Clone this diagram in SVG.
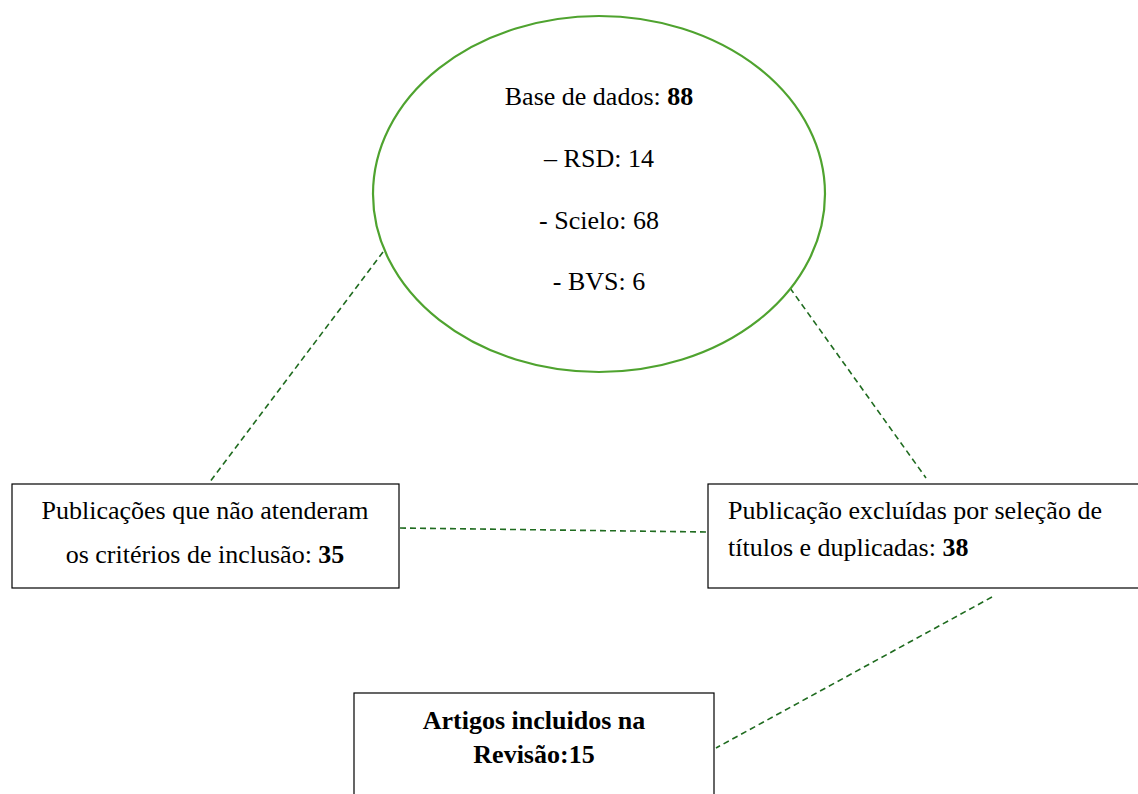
<svg xmlns="http://www.w3.org/2000/svg" width="1138" height="794" viewBox="0 0 1138 794">
<style>
text{font-family:"Liberation Serif","Times New Roman",serif;font-size:26px;fill:#000}
.b{font-weight:bold}
.box{fill:#fff;stroke:#000;stroke-width:1.2}
.conn{stroke:#1f6b1f;stroke-width:1.6;stroke-dasharray:6,4;fill:none}
</style>
<rect width="1138" height="794" fill="#fff"/>
<g id="connectors">
<line class="conn" x1="383" y1="252" x2="209" y2="483"/>
<line class="conn" x1="790" y1="288" x2="926" y2="478"/>
<line class="conn" x1="400" y1="528" x2="707" y2="532"/>
<line class="conn" x1="992" y1="597" x2="716" y2="748"/>
</g>
<g id="base">
<ellipse cx="599" cy="194" rx="226" ry="178" fill="#fff" stroke="#4fa32f" stroke-width="2.2"/>
<text x="599" y="105" text-anchor="middle">Base de dados: <tspan class="b">88</tspan></text>
<text x="599" y="167" text-anchor="middle">– RSD: 14</text>
<text x="599" y="229" text-anchor="middle">- Scielo: 68</text>
<text x="599" y="290" text-anchor="middle">- BVS: 6</text>
</g>
<g id="naoAtenderam">
<rect class="box" x="12" y="484" width="387" height="104"/>
<text x="205" y="519" text-anchor="middle">Publicações que não atenderam</text>
<text x="205" y="563" text-anchor="middle">os critérios de inclusão: <tspan class="b">35</tspan></text>
</g>
<g id="excluidas">
<rect class="box" x="708" y="484" width="440" height="104"/>
<text x="728" y="519">Publicação excluídas por seleção de</text>
<text x="728" y="556">títulos e duplicadas: <tspan class="b">38</tspan></text>
</g>
<g id="incluidos">
<rect class="box" x="354" y="693" width="360" height="120"/>
<text class="b" x="534" y="729" text-anchor="middle">Artigos incluidos na</text>
<text class="b" x="534" y="763" text-anchor="middle">Revisão:15</text>
</g>
</svg>
